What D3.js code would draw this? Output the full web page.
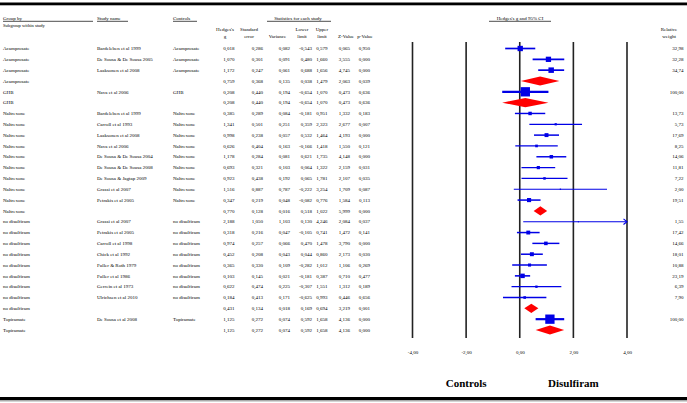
<!DOCTYPE html>
<html><head><meta charset="utf-8">
<script src="https://cdn.jsdelivr.net/npm/d3@7"></script>
<style>
body{margin:0;background:#fff}
svg{display:block}
text{font-family:"Liberation Serif","Times New Roman",serif;fill:#000}
</style>
</head><body>
<svg id="c" width="687" height="403"></svg>
<script>
const groupBy = ["Acamprosate","Acamprosate","Acamprosate","Acamprosate","GHB","GHB",
  "Naltrexone","Naltrexone","Naltrexone","Naltrexone","Naltrexone","Naltrexone","Naltrexone","Naltrexone","Naltrexone","Naltrexone",
  "no disulfiram","no disulfiram","no disulfiram","no disulfiram","no disulfiram","no disulfiram","no disulfiram","no disulfiram","no disulfiram",
  "Topiramate","Topiramate"];
const studyNames = ["Bardeleben et al 1999","De Sousa & De Sousa 2005","Laaksonen et al 2008","",
  "Nava et al 2006","",
  "Bardeleben et al 1999","Carroll et al 1993","Laaksonen et al 2008","Nava et al 2006","De Sousa & De Sousa 2004","De Sousa & De Sousa 2008","De Sousa & Jagtap 2009","Grassi et al 2007","Petrakis et al 2005","",
  "Grassi et al 2007","Petrakis et al 2005","Carroll et al 1998","Chick et al 1992","Fuller & Roth 1979","Fuller et al 1986","Gerrein et al 1973","Ulrichsen et al 2010","",
  "De Sousa et al 2008",""];
const controlNames = ["Acamprosate","Acamprosate","Acamprosate","",
  "GHB","",
  "Naltrexone","Naltrexone","Naltrexone","Naltrexone","Naltrexone","Naltrexone","Naltrexone","Naltrexone","Naltrexone","",
  "no disulfiram","no disulfiram","no disulfiram","no disulfiram","no disulfiram","no disulfiram","no disulfiram","no disulfiram","",
  "Topiramate",""];
const isSummary = [0,0,0,1, 0,1, 0,0,0,0,0,0,0,0,0,1, 0,0,0,0,0,0,0,0,1, 0,1];
const hedgesG   = [0.018,1.070,1.172,0.759, 0.208,0.208, 0.385,1.341,0.998,0.626,1.178,0.693,0.923,1.516,0.347,0.770, 2.188,0.318,0.974,0.452,0.365,0.103,0.622,0.184,0.431, 1.125,1.125];
const stdError  = [0.286,0.301,0.247,0.368, 0.440,0.440, 0.289,0.501,0.238,0.404,0.284,0.321,0.438,0.887,0.219,0.128, 1.050,0.216,0.257,0.208,0.330,0.145,0.474,0.413,0.134, 0.272,0.272];
const varianceV = [0.082,0.091,0.061,0.135, 0.194,0.194, 0.084,0.251,0.057,0.163,0.081,0.103,0.192,0.787,0.048,0.016, 1.103,0.047,0.066,0.043,0.109,0.021,0.225,0.171,0.018, 0.074,0.074];
const lowerLimit= [-0.543,0.480,0.688,0.038, -0.654,-0.654, -0.181,0.359,0.532,-0.166,0.621,0.064,0.065,-0.222,-0.082,0.518, 0.130,-0.105,0.470,0.044,-0.282,-0.181,-0.307,-0.625,0.169, 0.592,0.592];
const upperLimit= [0.579,1.660,1.656,1.479, 1.070,1.070, 0.951,2.323,1.464,1.418,1.735,1.322,1.781,3.254,0.776,1.022, 4.246,0.741,1.478,0.860,1.012,0.387,1.551,0.993,0.694, 1.658,1.658];
const zValue    = [0.065,3.555,4.745,2.063, 0.473,0.473, 1.332,2.677,4.193,1.550,4.148,2.159,2.107,1.709,1.584,5.999, 2.084,1.472,3.790,2.173,1.106,0.710,1.312,0.446,3.219, 4.136,4.136];
const pValue    = [0.950,0.000,0.000,0.039, 0.636,0.636, 0.183,0.007,0.000,0.121,0.000,0.031,0.035,0.087,0.113,0.000, 0.037,0.141,0.000,0.030,0.269,0.477,0.189,0.656,0.001, 0.000,0.000];
const relWeight = [32.98,32.28,34.74,null, 100.00,null, 13.73,5.73,17.69,8.25,14.06,11.81,7.22,2.00,19.51,null, 1.55,17.42,14.66,18.01,10.88,23.19,6.39,7.90,null, 100.00,null];
const xTicks = [-4,-2,0,2,4];

const loc = d3.formatLocale({decimal:",",thousands:".",grouping:[3],currency:["",""],minus:"-"});
const f3 = loc.format(".3f"), f2 = loc.format(".2f");

const svg = d3.select("#c");
const W = 687, H = 403;
const n = hedgesG.length;
const rows = d3.range(n);
const x = d3.scaleLinear().domain([-4,4]).range([412.5,627]);
const y = d3.scalePoint().domain(rows).range([48.5,330]);
const FS = 5;

// top / bottom bars
svg.append("rect").attr("x",0).attr("y",2.5).attr("width",W).attr("height",2.8).attr("fill","#000");
svg.append("rect").attr("x",0).attr("y",397).attr("width",W).attr("height",3).attr("fill","#000");
svg.append("rect").attr("x",0).attr("y",400).attr("width",W).attr("height",1.5).attr("fill","#aaa");

function txt(t,xx,yy,anchor,size,weight){
  return svg.append("text").attr("x",xx).attr("y",yy).attr("text-anchor",anchor||"start")
    .attr("font-size",size||FS).attr("font-weight",weight||"normal").text(t);
}
function uline(x1,x2,yy){
  svg.append("line").attr("x1",x1).attr("x2",x2).attr("y1",yy).attr("y2",yy).attr("stroke","#000").attr("stroke-width",0.7);
}
txt("Group by",3,19.5); uline(3,93,21.3);
txt("Subgroup within study",3,26.5,"start",4.6);
txt("Study name",97,19.5); uline(97,128,21.3);
txt("Controls",173,19.5); uline(173,197,21.3);
txt("Statistics for each study",298,19.5,"middle"); uline(267,331,21.3);
txt("Hedges's g and 95% CI",520,19.5,"middle"); uline(489,551,21.3);

const hdr = [
  ["Hedges's","g",225],["Standard","error",249],["","Variance",277.5],["Lower","limit",302],
  ["Upper","limit",322],["","Z-Value",346],["","p-Value",365]
];
hdr.forEach(h=>{
  if(h[0]) txt(h[0],h[2],30.5,"middle");
  txt(h[1],h[2],37.5,"middle");
});
txt("Relative",669,30.5,"middle"); txt("weight",669,37.5,"middle");

// table rows
const numCols = [
  {v:hedgesG,x:234.5},{v:stdError,x:263},{v:varianceV,x:290},{v:lowerLimit,x:312},
  {v:upperLimit,x:327.5},{v:zValue,x:350},{v:pValue,x:370}
];
const rowG = svg.append("g").attr("font-size",FS);
rows.forEach(i=>{
  const yy = y(i)+1.7;
  rowG.append("text").attr("x",3).attr("y",yy).text(groupBy[i]);
  if(studyNames[i]) rowG.append("text").attr("x",97).attr("y",yy).text(studyNames[i]);
  if(controlNames[i]) rowG.append("text").attr("x",173).attr("y",yy).text(controlNames[i]);
  numCols.forEach(c=>{
    rowG.append("text").attr("x",c.x).attr("y",yy).attr("text-anchor","end").text(f3(c.v[i]));
  });
  if(relWeight[i]!=null) rowG.append("text").attr("x",683.5).attr("y",yy).attr("text-anchor","end").text(f2(relWeight[i]));
});

// vertical reference lines
svg.append("g").selectAll("line").data(xTicks).join("line")
  .attr("x1",d=>x(d)).attr("x2",d=>x(d)).attr("y1",42).attr("y2",338)
  .attr("stroke","#222").attr("stroke-width",1.6);

// axis labels
const ax = svg.append("g").attr("transform","translate(0,347)")
  .call(d3.axisBottom(x).tickValues(xTicks).tickSize(0).tickFormat(loc.format(".2f")));
ax.select(".domain").remove();
ax.selectAll("text").attr("font-size",FS).attr("font-family","Liberation Serif, serif").attr("fill","#000");

// study CI lines + squares
const plot = svg.append("g");
rows.filter(i=>!isSummary[i]).forEach(i=>{
  const w = relWeight[i];
  const sw = 1 + Math.sqrt(w)*0.12;
  const hi = Math.min(upperLimit[i],4);
  plot.append("line").attr("x1",x(lowerLimit[i])).attr("x2",x(hi))
    .attr("y1",y(i)).attr("y2",y(i)).attr("stroke","#0000e6").attr("stroke-width",sw);
  if(upperLimit[i]>4){
    const ax0 = x(4);
    plot.append("path").attr("d",`M${ax0-3.5},${y(i)-2.8}L${ax0},${y(i)}L${ax0-3.5},${y(i)+2.8}`)
      .attr("fill","none").attr("stroke","#0000e6").attr("stroke-width",1.1);
  }
  const s = 0.93*Math.sqrt(w);
  plot.append("rect").attr("x",x(hedgesG[i])-s/2).attr("y",y(i)-s/2).attr("width",s).attr("height",s).attr("fill","#0000e6");
});
// summary diamonds
rows.filter(i=>isSummary[i]).forEach(i=>{
  const h = 4.6, yy = y(i);
  plot.append("path").attr("d",`M${x(lowerLimit[i])},${yy}L${x(hedgesG[i])},${yy-h}L${x(upperLimit[i])},${yy}L${x(hedgesG[i])},${yy+h}Z`)
    .attr("fill","#ff0000");
});

// bottom labels
txt("Controls",x(-2),386.5,"middle",11,"bold");
txt("Disulfiram",x(2),386.5,"middle",11,"bold");
</script>
</body></html>
